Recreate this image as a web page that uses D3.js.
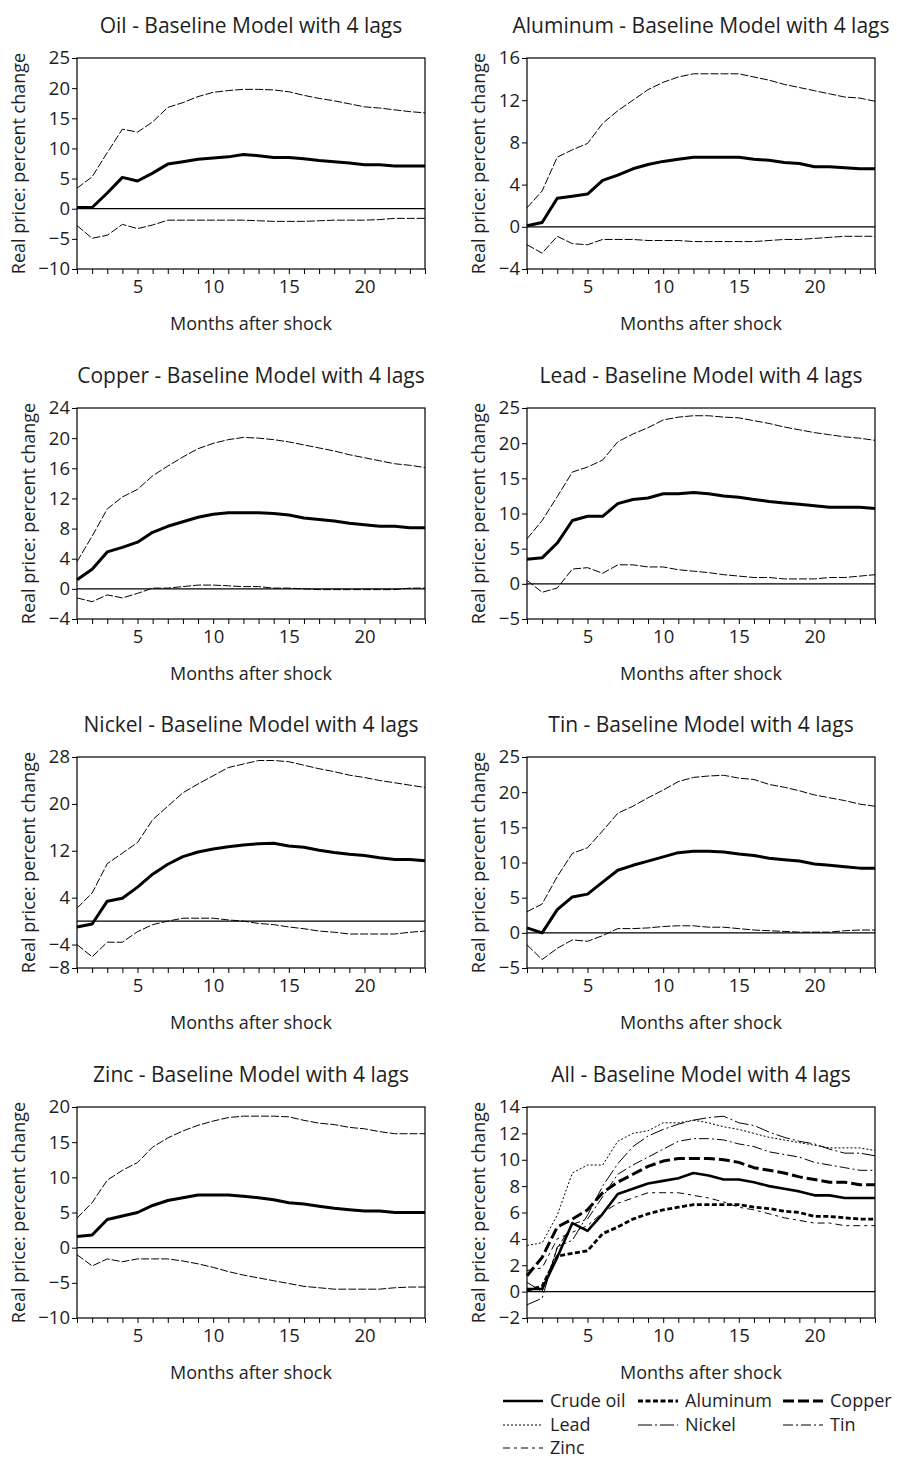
<!DOCTYPE html>
<html>
<head>
<meta charset="utf-8">
<script src="https://cdn.jsdelivr.net/npm/d3@7"></script>
<style>
body { margin: 0; background: #fff; }
text { font-family: "Open Sans", sans-serif; fill: #1e1e1e; }
</style>
</head>
<body>
<svg id="chart"></svg>
<script>
// months after the shock
var months = [1, 2, 3, 4, 5, 6, 7, 8, 9, 10, 11, 12, 13, 14, 15, 16, 17, 18, 19, 20, 21, 22, 23, 24];
var xTickLabels = [5, 10, 15, 20];

// point estimates and bands
var oilMid = [0.2, 0.2, 2.6, 5.2, 4.6, 5.9, 7.4, 7.8, 8.2, 8.4, 8.6, 9.0, 8.8, 8.5, 8.5, 8.3, 8.0, 7.8, 7.6, 7.3, 7.3, 7.1, 7.1, 7.1];
var oilUp = [3.4, 5.3, 9.3, 13.2, 12.7, 14.4, 16.8, 17.6, 18.6, 19.3, 19.6, 19.8, 19.8, 19.7, 19.4, 18.8, 18.3, 17.9, 17.4, 16.9, 16.7, 16.4, 16.1, 15.9];
var oilLo = [-2.8, -4.9, -4.4, -2.6, -3.3, -2.7, -1.9, -1.9, -1.9, -1.9, -1.9, -1.9, -2.0, -2.1, -2.1, -2.1, -2.0, -1.9, -1.9, -1.9, -1.8, -1.6, -1.6, -1.6];
var oilTicks = [-10, -5, 0, 5, 10, 15, 20, 25];

var aluMid = [0.1, 0.4, 2.7, 2.9, 3.1, 4.4, 4.9, 5.5, 5.9, 6.2, 6.4, 6.6, 6.6, 6.6, 6.6, 6.4, 6.3, 6.1, 6.0, 5.7, 5.7, 5.6, 5.5, 5.5];
var aluUp = [1.8, 3.4, 6.6, 7.3, 7.9, 9.8, 11.0, 12.0, 13.0, 13.7, 14.2, 14.5, 14.5, 14.5, 14.5, 14.2, 13.9, 13.5, 13.2, 12.9, 12.6, 12.3, 12.2, 11.9];
var aluLo = [-1.7, -2.5, -0.9, -1.6, -1.7, -1.2, -1.2, -1.2, -1.3, -1.3, -1.3, -1.4, -1.4, -1.4, -1.4, -1.4, -1.3, -1.2, -1.2, -1.1, -1.0, -0.9, -0.9, -0.9];
var aluTicks = [-4, 0, 4, 8, 12, 16];

var copMid = [1.2, 2.6, 4.9, 5.5, 6.2, 7.5, 8.3, 8.9, 9.5, 9.9, 10.1, 10.1, 10.1, 10.0, 9.8, 9.4, 9.2, 9.0, 8.7, 8.5, 8.3, 8.3, 8.1, 8.1];
var copUp = [3.6, 7.0, 10.6, 12.2, 13.2, 15.0, 16.3, 17.5, 18.6, 19.3, 19.8, 20.1, 20.0, 19.8, 19.5, 19.1, 18.7, 18.3, 17.8, 17.4, 17.0, 16.6, 16.4, 16.1];
var copLo = [-1.2, -1.7, -0.8, -1.2, -0.6, 0.1, 0.1, 0.3, 0.5, 0.5, 0.4, 0.3, 0.3, 0.1, 0.1, 0.0, -0.1, -0.1, -0.1, -0.1, -0.1, -0.1, 0.1, 0.1];
var copTicks = [-4, 0, 4, 8, 12, 16, 20, 24];

var leadMid = [3.5, 3.7, 5.8, 9.0, 9.6, 9.6, 11.4, 12.0, 12.2, 12.8, 12.8, 13.0, 12.8, 12.5, 12.3, 12.0, 11.7, 11.5, 11.3, 11.1, 10.9, 10.9, 10.9, 10.7];
var leadUp = [6.4, 9.0, 12.4, 15.9, 16.6, 17.6, 20.2, 21.3, 22.2, 23.3, 23.7, 23.9, 23.9, 23.7, 23.6, 23.2, 22.8, 22.3, 21.9, 21.5, 21.2, 20.9, 20.7, 20.4];
var leadLo = [0.5, -1.2, -0.6, 2.1, 2.3, 1.5, 2.7, 2.7, 2.4, 2.4, 2.0, 1.8, 1.6, 1.3, 1.1, 0.9, 0.9, 0.7, 0.7, 0.7, 0.9, 0.9, 1.1, 1.3];
var leadTicks = [-5, 0, 5, 10, 15, 20, 25];

var nickMid = [-1.0, -0.5, 3.4, 3.9, 5.8, 8.0, 9.7, 11.0, 11.8, 12.3, 12.7, 13.0, 13.2, 13.3, 12.8, 12.6, 12.1, 11.7, 11.4, 11.2, 10.8, 10.5, 10.5, 10.3];
var nickUp = [2.2, 4.8, 9.8, 11.6, 13.4, 17.3, 19.6, 21.9, 23.4, 24.8, 26.2, 26.8, 27.4, 27.4, 27.2, 26.6, 26.0, 25.5, 24.9, 24.5, 24.0, 23.6, 23.2, 22.8];
var nickLo = [-4.0, -6.1, -3.6, -3.6, -1.8, -0.6, 0.0, 0.5, 0.5, 0.5, 0.2, 0.0, -0.4, -0.6, -1.0, -1.3, -1.7, -1.9, -2.2, -2.2, -2.2, -2.2, -1.9, -1.7];
var nickTicks = [-8, -4, 4, 12, 20, 28];

var tinMid = [0.7, 0.0, 3.3, 5.1, 5.5, 7.2, 8.9, 9.6, 10.2, 10.8, 11.4, 11.6, 11.6, 11.5, 11.2, 11.0, 10.6, 10.4, 10.2, 9.8, 9.6, 9.4, 9.2, 9.2];
var tinUp = [3.0, 4.1, 8.0, 11.3, 12.1, 14.5, 17.0, 18.0, 19.2, 20.3, 21.5, 22.1, 22.3, 22.4, 22.0, 21.8, 21.1, 20.7, 20.2, 19.6, 19.2, 18.8, 18.3, 18.0];
var tinLo = [-1.7, -3.8, -2.2, -1.0, -1.2, -0.4, 0.6, 0.6, 0.7, 0.9, 1.0, 1.0, 0.8, 0.8, 0.6, 0.4, 0.3, 0.2, 0.1, 0.1, 0.1, 0.3, 0.4, 0.4];
var tinTicks = [-5, 0, 5, 10, 15, 20, 25];

var zincMid = [1.6, 1.8, 4.0, 4.5, 5.0, 6.0, 6.7, 7.1, 7.5, 7.5, 7.5, 7.3, 7.1, 6.8, 6.4, 6.2, 5.9, 5.6, 5.4, 5.2, 5.2, 5.0, 5.0, 5.0];
var zincUp = [4.2, 6.4, 9.6, 11.0, 12.1, 14.3, 15.6, 16.6, 17.4, 18.0, 18.5, 18.7, 18.7, 18.7, 18.6, 18.1, 17.7, 17.5, 17.1, 16.9, 16.5, 16.2, 16.2, 16.2];
var zincLo = [-1.0, -2.6, -1.6, -2.0, -1.6, -1.6, -1.6, -1.9, -2.3, -2.8, -3.4, -3.9, -4.3, -4.7, -5.1, -5.5, -5.7, -5.9, -5.9, -5.9, -5.9, -5.7, -5.6, -5.6];
var zincTicks = [-10, -5, 0, 5, 10, 15, 20];

var allTicks = [-2, 0, 2, 4, 6, 8, 10, 12, 14];
var legendNames = ["Crude oil", "Aluminum", "Copper", "Lead", "Nickel", "Tin", "Zinc"];

var W = 897, H = 1459;
var pw = 348, ph = 211;
var colX = [77, 527];
var rowY = [58, 408, 757, 1107];

var svg = d3.select("#chart")
    .attr("width", W)
    .attr("height", H);

svg.append("rect")
    .attr("width", W)
    .attr("height", H)
    .attr("fill", "#fff");

var bandStyle = { width: 1, dash: "8,2" };
var midStyle = { width: 3, dash: null };

// styles for the "All" panel, same order as legendNames
var allStyles = [
    { width: 2.6, dash: null },
    { width: 2.8, dash: "5,2.5" },
    { width: 3, dash: "11,4" },
    { width: 1, dash: "2,2" },
    { width: 1, dash: "14,3,2,3" },
    { width: 1, dash: "10,3,2,3" },
    { width: 1, dash: "7,4,3,4" }
];

var x = d3.scaleLinear().domain([1, 24]).range([0, pw]);

function drawPanel(px, py, title, yTicks, series) {
    var g = svg.append("g").attr("transform", "translate(" + px + "," + py + ")");
    var y = d3.scaleLinear()
        .domain([d3.min(yTicks), d3.max(yTicks)])
        .range([ph, 0]);

    // title
    g.append("text")
        .attr("x", pw / 2)
        .attr("y", -25)
        .attr("text-anchor", "middle")
        .style("font-size", "21px")
        .text(title);

    // zero line
    g.append("line")
        .attr("x1", 0).attr("x2", pw)
        .attr("y1", y(0)).attr("y2", y(0))
        .attr("stroke", "#000")
        .attr("stroke-width", 1.3);

    var line = d3.line()
        .x(function(d, i) { return x(months[i]); })
        .y(function(d) { return y(d); });

    series.forEach(function(s) {
        g.append("path")
            .datum(s.values)
            .attr("d", line)
            .attr("fill", "none")
            .attr("stroke", "#000")
            .attr("stroke-width", s.style.width)
            .attr("stroke-dasharray", s.style.dash)
            .attr("stroke-linejoin", "round");
    });

    // frame
    g.append("rect")
        .attr("width", pw).attr("height", ph)
        .attr("fill", "none")
        .attr("stroke", "#000")
        .attr("stroke-width", 1.2);

    // axes
    var ya = g.append("g")
        .call(d3.axisLeft(y).tickValues(yTicks).tickSize(5).tickPadding(2).tickFormat(d3.format("d")));
    ya.select(".domain").remove();
    ya.selectAll("text").style("font-size", "18.5px").style("font-family", "'Open Sans', sans-serif").attr("fill", "#1e1e1e");

    var xa = g.append("g")
        .attr("transform", "translate(0," + ph + ")")
        .call(d3.axisBottom(x).tickValues(months).tickSize(5).tickPadding(6)
            .tickFormat(function(d) { return xTickLabels.indexOf(d) >= 0 ? d : ""; }));
    xa.select(".domain").remove();
    xa.selectAll("text").style("font-size", "18.5px").style("font-family", "'Open Sans', sans-serif").attr("fill", "#1e1e1e");

    // axis titles, placed left of the widest tick label
    var minX = 0;
    ya.selectAll("text").each(function() {
        minX = Math.min(minX, this.getBBox().x);
    });
    g.append("text")
        .attr("transform", "translate(" + (minX - 20) + "," + (ph / 2) + ") rotate(-90)")
        .attr("dy", "0.35em")
        .attr("text-anchor", "middle")
        .style("font-size", "18px")
        .text("Real price: percent change");

    g.append("text")
        .attr("x", pw / 2)
        .attr("y", ph + 61)
        .attr("text-anchor", "middle")
        .style("font-size", "18px")
        .text("Months after shock");
}

var single = [
    ["Oil", oilMid, oilUp, oilLo, oilTicks],
    ["Aluminum", aluMid, aluUp, aluLo, aluTicks],
    ["Copper", copMid, copUp, copLo, copTicks],
    ["Lead", leadMid, leadUp, leadLo, leadTicks],
    ["Nickel", nickMid, nickUp, nickLo, nickTicks],
    ["Tin", tinMid, tinUp, tinLo, tinTicks],
    ["Zinc", zincMid, zincUp, zincLo, zincTicks]
];

single.forEach(function(p, i) {
    drawPanel(colX[i % 2], rowY[Math.floor(i / 2)], p[0] + " - Baseline Model with 4 lags", p[4], [
        { values: p[2], style: bandStyle },
        { values: p[3], style: bandStyle },
        { values: p[1], style: midStyle }
    ]);
});

var allSeries = single.map(function(p, i) {
    return { values: p[1], style: allStyles[i] };
});
// draw thin ones first so the thick lines sit on top
drawPanel(colX[1], rowY[3], "All - Baseline Model with 4 lags", allTicks, allSeries.slice().reverse());

// legend
var legendCols = [503, 638, 783];
var legendRows = [1401, 1425, 1448];
var leg = svg.append("g");
legendNames.forEach(function(name, i) {
    var cx = legendCols[i % 3], cy = legendRows[Math.floor(i / 3)];
    var st = allStyles[i];
    leg.append("line")
        .attr("x1", cx).attr("x2", cx + 40)
        .attr("y1", cy).attr("y2", cy)
        .attr("stroke", "#000")
        .attr("stroke-width", st.width)
        .attr("stroke-dasharray", st.dash);
    leg.append("text")
        .attr("x", cx + 47)
        .attr("y", cy)
        .attr("dy", "0.35em")
        .style("font-size", "18px")
        .text(name);
});
</script>
</body>
</html>
